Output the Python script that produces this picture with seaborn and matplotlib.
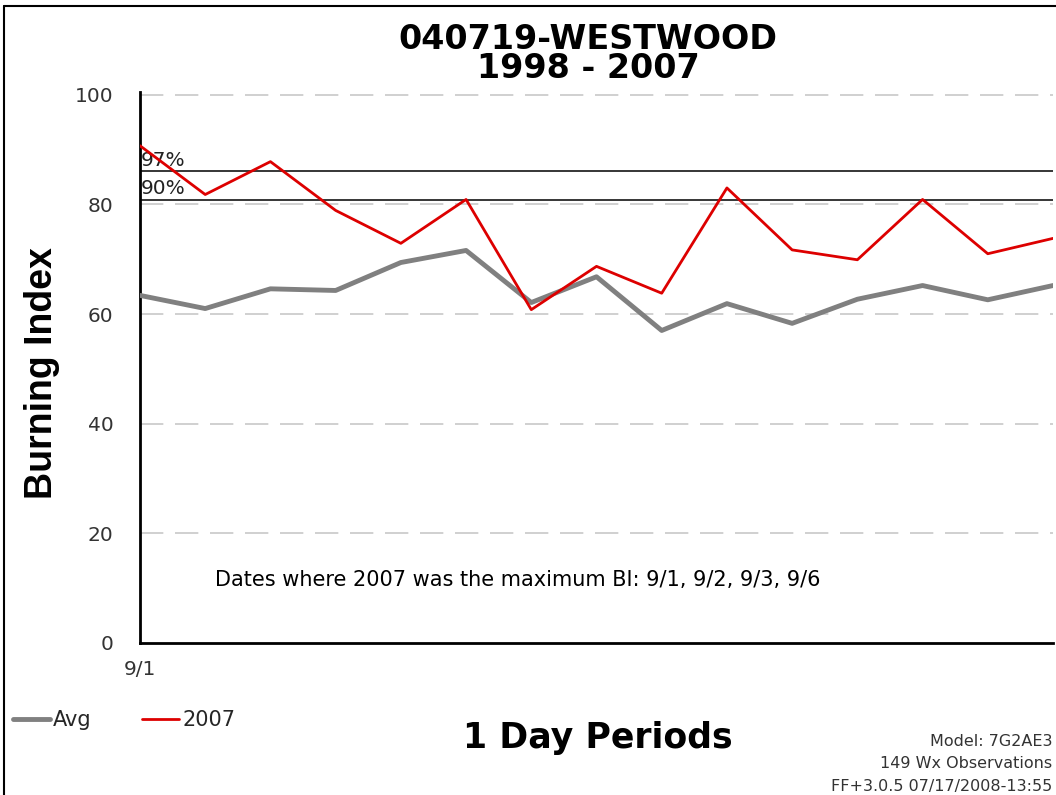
import pandas as pd
import matplotlib
matplotlib.use("Agg")
import matplotlib.pyplot as plt
from matplotlib.lines import Line2D
import seaborn as sns

sns.set_style("white")
plt.rcParams['font.family'] = ['DejaVu Sans']

### Values
days = ['9/1', '9/2', '9/3', '9/4', '9/5', '9/6', '9/7', '9/8',
        '9/9', '9/10', '9/11', '9/12', '9/13', '9/14', '9/15']
avg_bi = [63.4, 61.0, 64.6, 64.3, 69.4, 71.6, 62.1, 66.8,
          57.0, 61.9, 58.3, 62.7, 65.2, 62.6, 65.2]
bi_2007 = [90.7, 81.8, 87.8, 78.9, 72.9, 80.9, 60.8, 68.7,
           63.8, 83.0, 71.7, 69.9, 80.9, 71.0, 73.8]
pct_levels = [86.0, 80.8]
pct_labels = ['97%', '90%']
y_ticks = [0, 20, 40, 60, 80, 100]

df = pd.DataFrame({'day': list(range(len(days))) * 2,
                   'BI': avg_bi + bi_2007,
                   'series': ['Avg'] * len(days) + ['2007'] * len(days)})

W, H = 1056, 795
fig = plt.figure(figsize=(W / 100, H / 100), dpi=100)
ax = fig.add_axes([140 / W, 1 - 643 / H, (1053 - 140) / W, (643 - 92) / H])

## dashed grid
for yv in y_ticks[1:]:
    ax.axhline(yv, color='#c8c8c8', lw=1.2, dashes=(14, 7), zorder=0)

## percentile lines
for lvl, lab in zip(pct_levels, pct_labels):
    ax.axhline(lvl, color='black', lw=1.1, zorder=1)
    ax.text(0.004, lvl + 0.3, lab, fontsize=14.5, color='#222222', va='bottom', ha='left')

sns.lineplot(data=df, x='day', y='BI', hue='series', ax=ax,
             palette={'Avg': '#808080', '2007': '#dd0000'},
             hue_order=['Avg', '2007'], legend=False, zorder=3)
ax.lines[-2].set_linewidth(3.5)
ax.lines[-1].set_linewidth(2.0)

ax.set_xlim(0, len(days) - 1)
ax.set_ylim(0, 100.5)
ax.set_yticks(y_ticks)
ax.set_yticklabels([str(v) for v in y_ticks], fontsize=14.5, color='#333333')
ax.set_xticks(range(len(days)))
ax.set_xticklabels([days[0]] + [''] * (len(days) - 1), fontsize=14.5, color='#333333')
ax.tick_params(axis='both', direction='out', length=7, width=1.2, color='black')
ax.tick_params(axis='y', pad=12)
ax.tick_params(axis='x', pad=5)
for s in ['top', 'right']:
    ax.spines[s].set_visible(False)
for s in ['left', 'bottom']:
    ax.spines[s].set_linewidth(2)
    ax.spines[s].set_color('black')
ax.set_xlabel('')
ax.set_ylabel('Burning Index', fontsize=27, fontweight='bold', family='Liberation Sans',
              color='black')
ax.yaxis.set_label_coords(-0.088, 0.49)

ax.text(75 / 913, 1 - (580 - 92) / 551, 'Dates where 2007 was the maximum BI: 9/1, 9/2, 9/3, 9/6',
        transform=ax.transAxes, fontsize=15, color='black', va='center')

## title and footer
fig.text(588 / W, 1 - 54 / H, '040719-WESTWOOD\n1998 - 2007', ha='center', va='center',
         fontsize=24, fontweight='bold', linespacing=0.88, color='black')
fig.text(598 / W, 1 - 738 / H, '1 Day Periods', ha='center', va='center',
         fontsize=25, fontweight='bold', color='black')
for yy, line in zip([742, 764, 786], ['Model: 7G2AE3', '149 Wx Observations',
                                       'FF+3.0.5 07/17/2008-13:55']):
    fig.text(1052 / W, 1 - yy / H, line, ha='right', va='center', fontsize=11.5,
             color='#333333')

handles = [Line2D([], [], color='#808080', lw=3.5), Line2D([], [], color='#dd0000', lw=2.0)]
fig.legend(handles, ['Avg', '2007'], loc='center left', bbox_to_anchor=(0.0, 1 - 720 / H),
           ncol=2, frameon=False, fontsize=15, handlelength=1.8, handletextpad=0.15,
           columnspacing=2.4, borderaxespad=0.2)

## frame around the image
fig.add_artist(Line2D([4 / W, 4 / W], [0, 1 - 6 / H], color='black', lw=1.5,
                      transform=fig.transFigure))
fig.add_artist(Line2D([4 / W, 1], [1 - 6 / H, 1 - 6 / H], color='black', lw=1.5,
                      transform=fig.transFigure))

fig.savefig('out.png', dpi=100)
